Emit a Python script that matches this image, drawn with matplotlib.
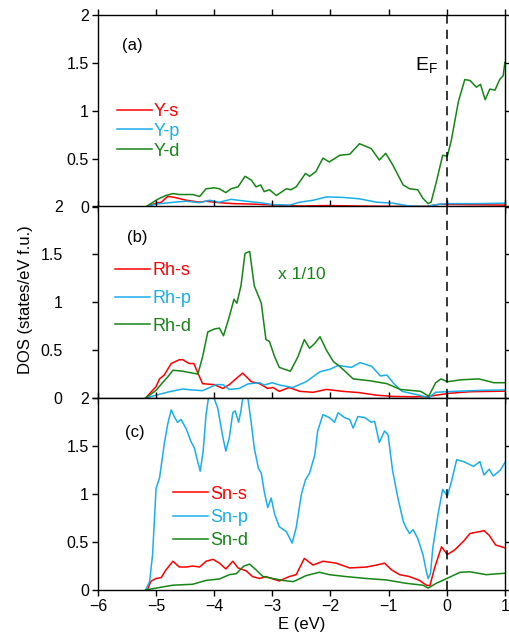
import numpy as np
import matplotlib.pyplot as plt
from matplotlib.ticker import FuncFormatter

plt.rcParams["font.family"] = ["Liberation Sans", "DejaVu Sans"]
plt.rcParams["mathtext.fontset"] = "custom"
plt.rcParams["mathtext.rm"] = "Liberation Sans"

red = "#ff0000"
blue = "#18aeec"
green = "#158515"

# ---- panel (a): Y ----
E_ys = [-5.18, -5.0, -4.91, -4.8, -4.68, -4.48, -4.25, -4.14, -3.91, -3.68, -3.34, -2.93, -2.53, -2.07, -1.5, -0.93, -0.35, -0.12, 0.23, 1.0]
ys = [0, 0.04, 0.05, 0.11, 0.10, 0.07, 0.05, 0.06, 0.045, 0.035, 0.03, 0.02, 0.01, 0.015, 0.01, 0.007, 0.007, 0.028, 0.025, 0.02]

E_yp = [-5.18, -5.0, -4.77, -4.48, -4.25, -4.08, -3.91, -3.71, -3.45, -3.22, -2.99, -2.7, -2.53, -2.3, -2.07, -1.79, -1.5, -1.21, -0.93, -0.64, -0.35, -0.18, 0.0, 0.51, 1.0]
yp = [0, 0.03, 0.045, 0.06, 0.045, 0.07, 0.05, 0.08, 0.06, 0.045, 0.025, 0.02, 0.05, 0.07, 0.105, 0.10, 0.085, 0.05, 0.04, 0.01, 0.005, 0.025, 0.035, 0.035, 0.04]

E_yd = [-5.18, -5.0, -4.94, -4.83, -4.71, -4.6, -4.37, -4.25, -4.14, -4.0, -3.91, -3.8, -3.71, -3.59, -3.47,
        -3.36, -3.28, -3.2, -3.14, -3.05, -2.93, -2.76, -2.68, -2.59, -2.43, -2.36, -2.25, -2.13, -2.02, -1.84,
        -1.67, -1.5, -1.3, -1.16, -1.05, -0.93, -0.75, -0.64, -0.5, -0.41, -0.32, -0.27, -0.18, -0.07, 0.01,
        0.08, 0.2, 0.31, 0.4, 0.51, 0.58, 0.66, 0.74, 0.83, 0.91, 0.97, 1.0]
yd = [0, 0.07, 0.09, 0.12, 0.14, 0.13, 0.13, 0.11, 0.19, 0.2, 0.19, 0.15, 0.19, 0.21, 0.32,
      0.28, 0.21, 0.23, 0.16, 0.18, 0.12, 0.19, 0.18, 0.21, 0.35, 0.32, 0.37, 0.51, 0.47, 0.54,
      0.55, 0.66, 0.61, 0.49, 0.56, 0.44, 0.23, 0.19, 0.18, 0.09, 0.035, 0.05, 0.26, 0.54, 0.53,
      0.70, 1.1, 1.33, 1.32, 1.25, 1.28, 1.12, 1.23, 1.22, 1.33, 1.37, 1.51]

# ---- panel (b): Rh (d shown x 1/10) ----
E_rs = [-5.18, -5.0, -4.94, -4.86, -4.74, -4.6, -4.54, -4.43, -4.35, -4.28, -4.2, -4.0, -3.85, -3.74, -3.59,
        -3.51, -3.36, -3.22, -3.08, -2.99, -2.88, -2.71, -2.53, -2.3, -2.07, -1.79, -1.5, -1.21, -0.93, -0.64,
        -0.35, -0.18, 0.05, 0.4, 0.8, 1.0]
rs = [0, 0.12, 0.2, 0.24, 0.36, 0.40, 0.40, 0.36, 0.36, 0.26, 0.15, 0.14, 0.10, 0.14, 0.22,
      0.26, 0.17, 0.15, 0.10, 0.11, 0.07, 0.11, 0.07, 0.06, 0.09, 0.07, 0.056, 0.03, 0.017, 0.014,
      0.014, 0.03, 0.05, 0.066, 0.07, 0.072]

E_rp = [-5.18, -5.0, -4.77, -4.54, -4.37, -4.2, -3.97, -3.85, -3.74, -3.57, -3.42, -3.22, -3.14, -3.0, -2.88,
        -2.65, -2.42, -2.18, -2.01, -1.87, -1.64, -1.49, -1.29, -1.14, -1.03, -0.91, -0.77, -0.51, -0.31, -0.19,
        0.12, 0.58, 1.0]
rp = [0, 0.03, 0.066, 0.094, 0.084, 0.077, 0.14, 0.14, 0.09, 0.10, 0.147, 0.16, 0.136, 0.16, 0.136,
      0.11, 0.17, 0.275, 0.30, 0.34, 0.32, 0.37, 0.33, 0.23, 0.24, 0.15, 0.07, 0.035, 0.005, 0.06,
      0.07, 0.08, 0.085]

E_rd = [-5.18, -5.0, -4.89, -4.8, -4.71, -4.54, -4.37, -4.28, -4.2, -4.11, -4.0, -3.91, -3.84, -3.74, -3.66,
        -3.61, -3.54, -3.47, -3.39, -3.31, -3.19, -3.11, -3.05, -2.96, -2.88, -2.79, -2.69, -2.56, -2.45, -2.36,
        -2.27, -2.18, -2.07, -1.95, -1.84, -1.61, -1.32, -1.03, -0.8, -0.45, -0.31, -0.19, -0.1, 0.01, 0.24,
        0.55, 0.81, 1.0]
rd = [0, 0.08, 0.16, 0.22, 0.29, 0.28, 0.26, 0.25, 0.43, 0.69, 0.72, 0.73, 0.65, 0.85, 1.03,
      0.99, 1.17, 1.51, 1.53, 1.17, 0.99, 0.61, 0.59, 0.43, 0.32, 0.30, 0.28, 0.43, 0.61, 0.52,
      0.57, 0.64, 0.50, 0.38, 0.33, 0.20, 0.18, 0.15, 0.09, 0.07, 0.02, 0.16, 0.20, 0.17, 0.19,
      0.20, 0.16, 0.16]

# ---- panel (c): Sn ----
E_ss = [-5.15, -5.09, -5.0, -4.91, -4.83, -4.71, -4.6, -4.48, -4.37, -4.25, -4.14, -4.02, -3.91, -3.8, -3.68,
        -3.59, -3.45, -3.34, -3.22, -3.11, -2.99, -2.88, -2.71, -2.59, -2.45, -2.3, -2.13, -1.9, -1.67, -1.38,
        -1.21, -1.07, -0.95, -0.81, -0.64, -0.47, -0.35, -0.29, -0.21, -0.09, 0.01, 0.14, 0.29, 0.4, 0.57,
        0.64, 0.73, 0.84, 1.0]
ss = [0, 0.09, 0.12, 0.13, 0.21, 0.30, 0.24, 0.24, 0.25, 0.24, 0.30, 0.32, 0.28, 0.22, 0.30,
      0.23, 0.20, 0.14, 0.12, 0.14, 0.115, 0.094, 0.14, 0.16, 0.33, 0.26, 0.30, 0.28, 0.23, 0.24,
      0.26, 0.28, 0.21, 0.16, 0.14, 0.10, 0.05, 0.045, 0.23, 0.45, 0.37, 0.42, 0.51, 0.59, 0.61,
      0.62, 0.57, 0.47, 0.44]

E_sp = [-5.18, -5.11, -5.06, -5.0, -4.94, -4.86, -4.8, -4.74, -4.68, -4.63, -4.57, -4.48, -4.4, -4.34, -4.28,
        -4.24, -4.19, -4.14, -4.1, -4.05, -4.0, -3.94, -3.85, -3.8, -3.74, -3.68, -3.64, -3.58, -3.54, -3.51,
        -3.47, -3.42, -3.36, -3.31, -3.24, -3.19, -3.14, -3.08, -3.02, -2.96, -2.88, -2.76, -2.66, -2.59, -2.5,
        -2.43, -2.36, -2.27, -2.22, -2.13, -2.02, -1.93, -1.87, -1.76, -1.67, -1.61, -1.53, -1.41, -1.3, -1.24,
        -1.16, -1.07, -1.01, -0.93, -0.84, -0.75, -0.7, -0.64, -0.58, -0.5, -0.41, -0.35, -0.32, -0.28, -0.24,
        -0.15, -0.07, 0.01, 0.08, 0.17, 0.29, 0.46, 0.57, 0.64, 0.73, 0.8, 0.92, 1.0]
sp = [0, 0.09, 0.37, 1.06, 1.17, 1.52, 1.73, 1.88, 1.80, 1.75, 1.78, 1.68, 1.55, 1.48, 1.33,
      1.24, 1.45, 1.83, 2.0, 2.1, 2.0, 1.9, 1.59, 1.45, 1.59, 1.85, 1.87, 1.75, 1.87, 2.0,
      2.15, 2.0, 1.73, 1.48, 1.27, 1.22, 1.03, 0.86, 0.96, 0.79, 0.66, 0.61, 0.49, 0.65, 1.0,
      1.15, 1.22, 1.41, 1.66, 1.83, 1.80, 1.75, 1.85, 1.80, 1.78, 1.69, 1.81, 1.80, 1.75, 1.76,
      1.54, 1.66, 1.62, 1.24, 0.96, 0.72, 0.65, 0.59, 0.63, 0.54, 0.37, 0.19, 0.12, 0.17, 0.44,
      0.79, 1.05, 0.98, 1.13, 1.36, 1.34, 1.29, 1.34, 1.20, 1.26, 1.19, 1.25, 1.33]

E_sd = [-5.18, -5.0, -4.71, -4.37, -4.14, -3.91, -3.74, -3.62, -3.49, -3.39, -3.28, -3.16, -2.99, -2.82, -2.64,
        -2.42, -2.19, -2.02, -1.73, -1.38, -1.04, -0.7, -0.41, -0.32, -0.18, 0.0, 0.23, 0.4, 0.68, 1.0]
sd = [0, 0.02, 0.05, 0.06, 0.10, 0.115, 0.16, 0.17, 0.25, 0.27, 0.21, 0.14, 0.12, 0.10, 0.087,
      0.15, 0.185, 0.16, 0.14, 0.12, 0.105, 0.07, 0.05, 0.02, 0.07, 0.12, 0.185, 0.19, 0.16, 0.175]

panels = [
    ("(a)", [(E_ys, ys, red, "Y-s"), (E_yp, yp, blue, "Y-p"), (E_yd, yd, green, "Y-d")],
     (0.047, 0.395), 0.16, (-5.58, 1.69)),
    ("(b)", [(E_rs, rs, red, "Rh-s"), (E_rp, rp, blue, "Rh-p"), (E_rd, rd, green, "Rh-d")],
     (0.042, 0.52), 0.6, (-5.5, 1.68)),
    ("(c)", [(E_ss, ss, red, "Sn-s"), (E_sp, sp, blue, "Sn-p"), (E_sd, sd, green, "Sn-d")],
     (0.184, 0.378), 0.35, (-5.54, 1.64)),
]

fig = plt.figure(figsize=(5.1, 6.42), dpi=100)
bottoms = [0.6776, 0.380, 0.081]
fmt = FuncFormatter(lambda v, p: f"{v:g}")

axs = []
for i, (tag, curves, leg_pos, spacing, tag_pos) in enumerate(panels):
    ax = fig.add_axes([0.192, bottoms[i], 0.798, 0.2985])
    for E, v, c, lab in curves:
        ax.plot(E, v, color=c, lw=1.1, label=lab)
    ax.axvline(0, color="black", lw=1.1, dashes=(6, 4))
    ax.set_xlim(-6, 1)
    ax.set_ylim(0, 2)
    ax.set_yticks([0, 0.5, 1, 1.5, 2])
    ax.set_xticks(range(-6, 2))
    ax.yaxis.set_major_formatter(fmt)
    ax.tick_params(direction="out", length=4.5, width=1, top=True, right=True,
                   labelsize=11.5, pad=2)
    if i < 2:
        ax.tick_params(axis="x", labelbottom=False)
    for s in ax.spines.values():
        s.set_linewidth(1.0)
    ax.text(tag_pos[0], tag_pos[1], tag, fontsize=12, va="center", ha="left")
    leg = ax.legend(loc="center left", bbox_to_anchor=leg_pos, frameon=False,
                    fontsize=13, handlelength=1.95, handletextpad=0.1,
                    labelspacing=spacing, borderpad=0, borderaxespad=0,
                    labelcolor="linecolor")
    axs.append(ax)

axs[1].tick_params(axis="y", pad=21)
axs[0].text(-0.55, 1.47, r"E$_\mathregular{F}$", fontsize=14, va="center", ha="left")
axs[1].text(-2.9, 1.29, "x 1/10", color=green, fontsize=12.5, va="center", ha="left")
axs[2].set_xlabel("E (eV)", fontsize=12, labelpad=2)
fig.text(0.05, 0.533, "DOS (states/eV f.u.)", rotation=90, fontsize=12,
         va="center", ha="center")

fig.savefig("out.png", dpi=100)
